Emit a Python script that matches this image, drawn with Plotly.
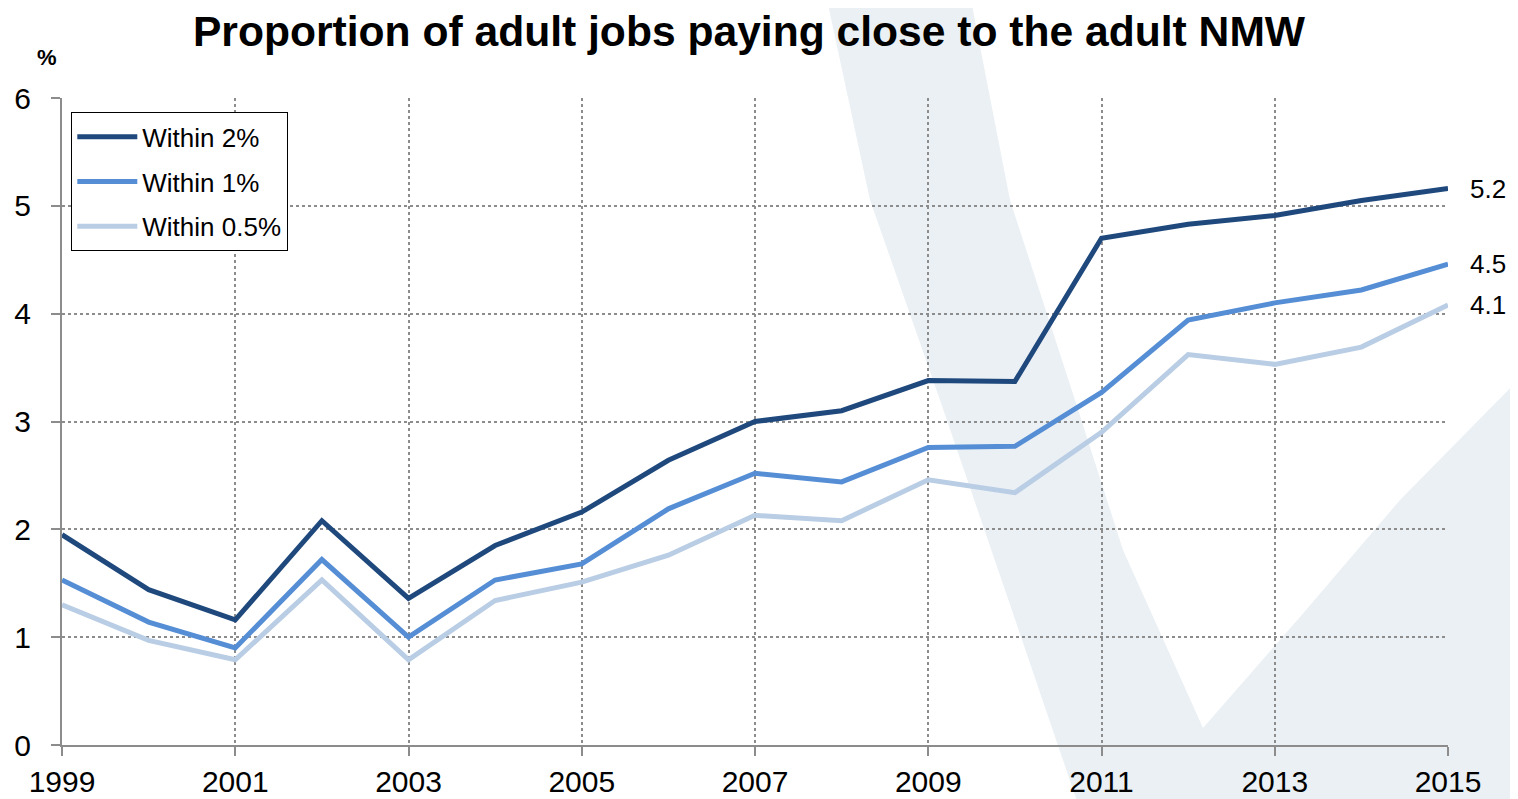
import plotly.graph_objects as go

# ---- data ----
years = list(range(1999, 2016))
within_2 = [1.95, 1.44, 1.16, 2.08, 1.36, 1.85, 2.16, 2.64, 3.00, 3.10, 3.38, 3.37, 4.70, 4.83, 4.91, 5.05, 5.16]
within_1 = [1.53, 1.14, 0.90, 1.72, 1.00, 1.53, 1.68, 2.19, 2.52, 2.44, 2.76, 2.77, 3.27, 3.94, 4.10, 4.22, 4.46]
within_05 = [1.30, 0.97, 0.79, 1.53, 0.79, 1.34, 1.51, 1.76, 2.13, 2.08, 2.46, 2.34, 2.90, 3.62, 3.53, 3.69, 4.08]
series_names = ["Within 2%", "Within 1%", "Within 0.5%"]
series_values = [within_2, within_1, within_05]
series_colors = ["#1F497D", "#558ED5", "#B9CDE5"]
x_ticks = list(range(1999, 2016, 2))
y_ticks = list(range(0, 7))

FONT = "Arial, Liberation Sans, sans-serif"
OFF = 8                      # page body margin
SW, SH = 1518, 799           # screen size
W, H = SW, SH                # figure size (overflow to the window edges)
PX0, PX1, PY0, PY1 = 62, 1448, 98, 745   # plot area on screen
L = PX0 - OFF
T = PY0 - OFF
R = W - (PX1 - OFF)
B = H - (PY1 - OFF)

fig = go.Figure()
for i, (name, vals, col) in enumerate(zip(series_names, series_values, series_colors)):
    fig.add_trace(go.Scatter(
        x=years, y=vals, mode="lines", name=name, legendgroup=f"g{i}",
        line=dict(color=col, width=5),
        hoverinfo="x+y+name",
    ))

def px2paper(sx, sy):
    return ((sx - PX0) / (PX1 - PX0), (PY1 - sy) / (PY1 - PY0))

# end labels
annotations = []
for vals in series_values:
    annotations.append(dict(
        x=years[-1], y=vals[-1], xref="x", yref="y", text=f"{vals[-1]:.1f}",
        showarrow=False, xanchor="left", yanchor="middle", xshift=20,
        font=dict(family=FONT, size=26, color="#000000"),
    ))
# "%" unit label
ux, uy = px2paper(47, 58)
annotations.append(dict(
    x=ux, y=uy, xref="paper", yref="paper", text="<b>%</b>", showarrow=False,
    xanchor="center", yanchor="middle", font=dict(family=FONT, size=22, color="#000000"),
))

# decorative watermark (background "V")
wm_pts = [(826, -5), (970, -5), (1010, 200), (1075, 400), (1123, 550), (1150, 610), (1203, 728),
          (1300, 617), (1400, 500), (1530, 368), (1530, 810), (1080, 810), (1005, 590),
          (940, 400), (870, 200)]
path = ""
for k, (sx, sy) in enumerate(wm_pts):
    xx, yy = px2paper(sx, sy)
    path += ("M" if k == 0 else "L") + f"{xx:.5f},{yy:.5f} "
path += "Z"

lx, ly = px2paper(71, 112)

fig.update_layout(
    width=W, height=H,
    margin=dict(l=L, r=R, t=T, b=B, pad=0, autoexpand=False),
    paper_bgcolor="#FFFFFF",
    plot_bgcolor="rgba(0,0,0,0)",
    font=dict(family=FONT, size=26, color="#000000"),
    title=dict(
        text="<b>Proportion of adult jobs paying close to the adult NMW</b>",
        x=(749 - OFF) / W, xref="container", xanchor="center",
        y=1 - (31 - OFF) / H, yref="container", yanchor="middle",
        font=dict(family=FONT, size=42.6, color="#000000"),
        automargin=False,
    ),
    showlegend=True,
    legend=dict(
        x=lx, y=ly, xanchor="left", yanchor="top",
        bgcolor="#FFFFFF", bordercolor="#000000", borderwidth=1.3,
        font=dict(family=FONT, size=26, color="#000000"),
        itemwidth=60, tracegroupgap=8, traceorder="grouped",
    ),
    shapes=[dict(type="path", path=path, xref="paper", yref="paper",
                 fillcolor="#EBF0F4", line=dict(width=0), layer="below")],
    annotations=annotations,
    xaxis=dict(
        range=[1999, 2015], tickmode="array", tickvals=x_ticks,
        ticktext=[str(v) for v in x_ticks],
        showgrid=True, gridcolor="#8C8C8C", griddash="dot", gridwidth=1.5,
        showline=True, linecolor="#8C8C8C", linewidth=2,
        ticks="outside", ticklen=9, tickwidth=2, tickcolor="#8C8C8C",
        tickfont=dict(family=FONT, size=30, color="#000000"),
        zeroline=False, fixedrange=True, automargin=False,
    ),
    yaxis=dict(
        range=[0, 6], tickmode="array", tickvals=y_ticks,
        ticktext=[str(v) for v in y_ticks],
        showgrid=True, gridcolor="#8C8C8C", griddash="dot", gridwidth=1.5,
        showline=True, linecolor="#8C8C8C", linewidth=2,
        ticks="outside", ticklen=9, tickwidth=2, tickcolor="#8C8C8C",
        tickfont=dict(family=FONT, size=30, color="#000000"),
        ticklabelstandoff=14,
        zeroline=False, fixedrange=True, automargin=False,
    ),
)

fig.write_html("out.html")
